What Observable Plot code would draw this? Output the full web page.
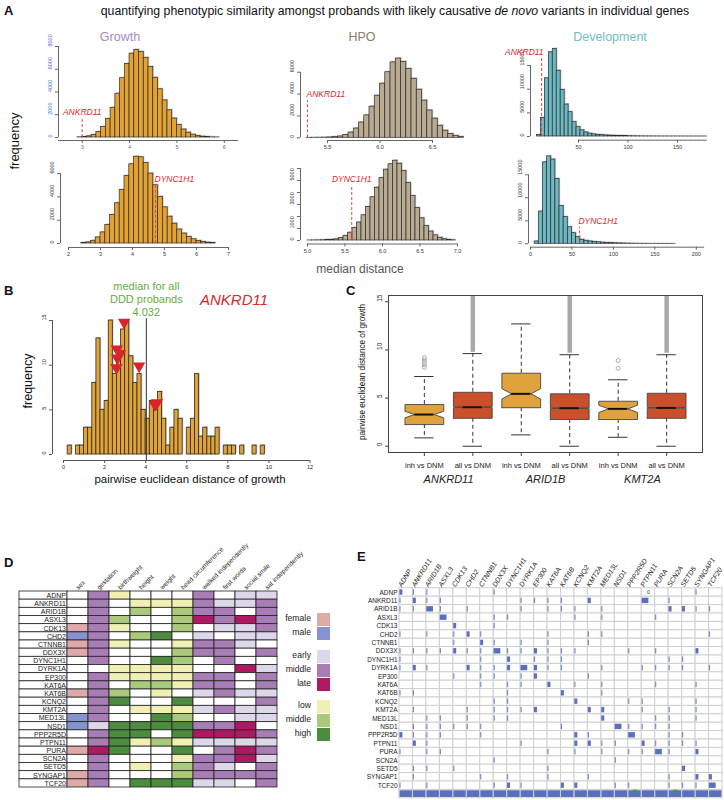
<!DOCTYPE html>
<html><head><meta charset="utf-8">
<script src="https://cdn.jsdelivr.net/npm/d3@7"></script>
<script src="https://cdn.jsdelivr.net/npm/@observablehq/plot@0.6"></script>
<style>
body{margin:0;background:#fff;}
#page{position:relative;width:724px;height:800px;overflow:hidden;font-family:"Liberation Sans",Arial,Helvetica,sans-serif;color:#111;background:#fff;}
.abs{position:absolute;white-space:nowrap;}
</style></head><body><div id="page"></div>
<script>
// ================= DATA =================
// Panel A: histogram bin left edges and counts
const growthTopEdges = [2.9,3.0,3.1,3.2,3.3,3.4,3.5,3.6,3.7,3.8,3.9,4.0,4.1,4.2,4.3,4.4,4.5,4.6,4.7,4.8,4.9,5.0,5.1,5.2,5.3,5.4,5.5,5.6,5.7,5.8];
const growthTopCounts = [15,41,102,233,483,925,1620,2610,3850,5210,6470,7370,7700,7520,7000,6200,5250,4240,3260,2390,1670,1110,700,425,245,135,71,35,17,8];
const growthBotEdges = [2.40,2.55,2.70,2.85,3.00,3.15,3.30,3.45,3.60,3.75,3.90,4.05,4.20,4.35,4.50,4.65,4.80,4.95,5.10,5.25,5.40,5.55,5.70,5.85,6.00,6.15,6.30,6.45];
const growthBotCounts = [30,90,230,520,950,1600,2450,3450,4600,5800,6800,7450,7400,6900,6000,5000,4000,3100,2300,1700,1200,850,560,360,220,130,70,30];
const hpoTopEdges = [5.30,5.35,5.40,5.45,5.50,5.55,5.60,5.65,5.70,5.75,5.80,5.85,5.90,5.95,6.00,6.05,6.10,6.15,6.20,6.25,6.30,6.35,6.40,6.45,6.50,6.55,6.60,6.65,6.70,6.75];
const hpoTopCounts = [5,8,12,20,35,65,120,250,480,850,1400,2050,2850,3850,4950,6000,6900,7250,6950,6300,5400,4400,3400,2500,1750,1100,650,350,170,70];
const hpoBotEdges = [5.00,5.06,5.12,5.18,5.24,5.30,5.36,5.42,5.48,5.54,5.60,5.66,5.72,5.78,5.84,5.90,5.96,6.02,6.08,6.14,6.20,6.26,6.32,6.38,6.44,6.50,6.56,6.62,6.68,6.74,6.80,6.86,6.92];
const hpoBotCounts = [5,10,15,25,40,60,100,200,380,650,1050,1500,2100,2800,3600,4400,5200,5900,6350,6650,6400,5800,4800,3700,2700,1850,1200,750,430,230,110,50,20];
const devTopEdges = [8,12,16,20,24,28,32,36,40,44,48,52,56,60,64,68,72,76,80,84,88,92,96,100,104,108,112,116,120,124,128,132,136,140,144,148,152,156,160,164,168,172,176];
const devTopCounts = [300,3940,12300,17800,18500,13900,9860,6760,5140,3030,1970,1300,850,600,450,350,280,220,180,150,120,100,80,65,50,40,32,26,20,16,13,10,8,6,5,4,3,3,2,2,1,1,1];
const devBotEdges = [5,10,15,20,25,30,35,40,45,50,55,60,65,70,75,80,85,90,95,100,105,110,115,120,125,130,135,140,145,150,155,160,165,170];
const devBotCounts = [500,7000,17700,19000,18300,14100,8200,5800,3600,2300,1450,870,650,500,400,320,250,200,160,120,90,70,50,35,25,18,12,8,5,4,3,2,1,1];
const markerGenes = ["ANKRD11","DYNC1H1"];
const growthMarkers = [3.0, 4.72];
const hpoMarkers = [5.31, 5.59];
const devMarkers = [12.7, 59];

// Panel B
const bLeft  = [0.2,0.6,0.8,1.0,1.2,1.4,1.6,1.8,2.0,2.2,2.4,2.6,2.8,3.0,3.2,3.4,3.6,3.8,4.0,4.2,4.4,4.6,4.8,5.0,5.2,5.4,5.6,6.0,6.2,6.4,6.6,6.8,7.0,7.2,7.4,7.8,8.0,8.2,8.6,9.2,9.6];
const bCount = [1,1,1,3,3,8,13,5,6,15,9,11,14,15,11,8,9,5,4,6,5,7,4,1,3,5,4,3,4,9,2,3,2,2,3,1,1,1,1,1,1];
const bTriX = [2.95,2.6,2.75,2.62,2.58,3.68,4.55,4.45];
const bTriY = [14.8,11.8,11.3,10.8,9.7,9.9,5.8,5.6];
const bMedianAll = 4.032;

// Panel C
const cGenes = ["ANKRD11","ARID1B","KMT2A"];
const cGroups = ["inh vs DNM","all vs DNM","inh vs DNM","all vs DNM","inh vs DNM","all vs DNM"];
const cQ1  = [2.25,2.9,4.0,2.77,2.77,2.9];
const cMed = [3.29,4.05,5.44,3.95,3.88,3.98];
const cQ3  = [4.33,5.6,7.58,5.44,4.67,5.5];
const cLo  = [0.87,0,1.18,0,0.93,0];
const cHi  = [7.24,9.62,12.7,9.5,6.9,9.5];
const cNotchLo = [2.95,4.0,4.9,3.9,3.5,3.93];
const cNotchHi = [3.63,4.1,5.98,4.0,4.26,4.03];
const cOutInh = [[8.2,8.45,8.7,8.95,9.2],[],[8.1,8.9]];
const cOutAllStart = [9.75,9.65,9.65];
const cOutAllMax = [22,22,22];

// Panel D
const dGenes = ["ADNP","ANKRD11","ARID1B","ASXL3","CDK13","CHD2","CTNNB1","DDX3X","DYNC1H1","DYRK1A","EP300","KAT6A","KAT6B","KCNQ2","KMT2A","MED13L","NSD1","PPP2R5D","PTPN11","PURA","SCN2A","SETD5","SYNGAP1","TCF20"];
const dColumns = ["sex","gestation","birthweight","height","weight","head circumference","walked independently","first words","social smile","sat independently"];
// codes: w none, F female, M male, e early, m middle, l late, L low, g middle (growth), H high
const dValues = ["wmLwwwmwee","wmwLLLmeem","wmwgwgmmwm","wmgwwglmlm","FmLwwgweem","MmwgHwewee","FmLwwLmmew","Fmwwwgmmwm","wmwwHgwmww","wwLLLLwwle","wmLLLLmmwm","wmwggLmmwm","FmgwLwemee","wmHwwHwwwm","wmwLLLemee","MmwwHgwwee","MeHHHHmmlw","wmHHwHlllm","wmHLgLeeee","FlHwwHwmlm","wmwwwLmmle","wmwLwgmewm","Fmwwwgmmmm","FmwHHHeewm"];
const dLegendLabels = ["female","male","early","middle","late","low","middle","high"];
const dLegendCodes  = ["F","M","e","m","l","L","g","H"];

// Panel E: [row, column, level]
const eGenes = dGenes;
const eMarks = [
 [0,0,2],[0,1,1],[0,2,1],[0,7,1],[0,22,1],
 [1,0,1],[1,1,2],[1,2,1],[1,3,1],[1,9,1],[1,10,1],[1,11,1],[1,12,1],[1,14,2],[1,18,3],[1,20,1],
 [2,0,1],[2,1,1],[2,2,3],[2,3,1],[2,5,1],[2,9,1],[2,11,1],[2,12,1],[2,13,1],[2,15,1],[2,20,2],[2,21,2],[2,22,1],[2,23,1],
 [3,3,3],[3,7,1],[3,8,1],[3,13,1],[3,15,1],[3,19,1],
 [4,4,2],[4,7,1],
 [5,0,1],[5,2,1],[5,4,1],[5,5,2],[5,6,1],[5,11,1],[5,14,1],[5,15,1],[5,23,1],
 [6,4,1],[6,6,2],[6,7,1],[6,9,1],[6,11,1],[6,14,1],
 [7,0,1],[7,1,1],[7,2,1],[7,3,1],[7,4,2],[7,5,1],[7,6,1],[7,7,3],[7,8,1],[7,9,1],[7,10,2],[7,11,1],[7,12,1],[7,13,1],[7,17,1],[7,19,1],[7,22,2],
 [8,0,1],[8,6,1],[8,8,2],[8,10,1],[8,11,1],[8,12,1],[8,20,1],[8,21,1],
 [9,0,1],[9,1,2],[9,2,1],[9,5,2],[9,6,1],[9,7,1],[9,8,2],[9,9,3],[9,10,2],[9,11,1],[9,12,1],[9,15,1],[9,18,1],[9,19,1],[9,20,1],[9,21,1],[9,23,1],
 [10,4,1],[10,6,1],[10,7,1],[10,9,1],[10,10,2],[10,14,1],
 [11,6,1],[11,8,1],[11,9,1],[11,11,2],[11,13,1],[11,15,1],[11,19,1],[11,22,1],
 [12,0,1],[12,1,1],[12,8,1],[12,12,2],[12,15,1],
 [13,7,1],[13,8,1],[13,13,2],[13,17,1],[13,18,1],[13,22,1],
 [14,1,1],[14,5,1],[14,7,1],[14,8,1],[14,9,1],[14,10,2],[14,14,2],[14,15,2],[14,18,1],[14,20,1],[14,22,1],
 [15,2,1],[15,3,1],[15,5,1],[15,7,1],[15,8,1],[15,15,2],[15,19,1],[15,20,1],[15,22,1],
 [16,1,1],[16,2,1],[16,3,1],[16,4,1],[16,5,1],[16,6,1],[16,12,1],[16,16,3],[16,17,1],[16,18,1],[16,19,1],[16,20,1],
 [17,0,2],[17,1,1],[17,2,1],[17,3,1],[17,6,1],[17,13,2],[17,14,1],[17,17,3],[17,20,1],[17,21,1],
 [18,1,2],[18,2,1],[18,9,1],[18,13,2],[18,14,2],[18,15,1],[18,16,1],[18,18,2],[18,19,1],[18,20,1],[18,21,1],[18,22,1],
 [19,0,1],[19,2,1],[19,3,1],[19,11,1],[19,13,1],[19,15,1],[19,17,1],[19,18,1],[19,19,3],[19,20,1],[19,22,2],
 [20,7,1],[20,16,1],
 [21,1,1],[21,2,1],[21,4,1],[21,11,1],[21,21,2],
 [22,1,1],[22,6,1],[22,8,1],[22,11,1],[22,14,1],[22,20,1],[22,22,2],[22,23,2],
 [23,0,1],[23,2,1],[23,7,1],[23,8,2],[23,9,1],[23,12,2],[23,13,2],[23,16,1],[23,17,1],[23,20,1],[23,21,1],[23,22,1],[23,23,3]
];
const eTotals = [1,1,1,1,1,1,1,1,1,1,1,1,1,1,1,1,1,1,1,1,1,1,1,1];
const eFlags = [17,20];
const eZero = [{row:0, col:18, text:"0"}];

// ================= STYLE / HELPERS =================
const FONT = '"Liberation Sans", Arial, Helvetica, sans-serif';
const baseStyle = {fontFamily: FONT, background: "transparent", overflow: "visible", color: "#222"};
const page = document.getElementById("page");
function mount(node, left, top){ node.style.position="absolute"; node.style.left=left+"px"; node.style.top=top+"px"; page.appendChild(node); }
function box(left, top, width, height, fx1, fx2, fy1, fy2){
  return {width, height, marginLeft: fx1-left, marginRight: left+width-fx2, marginTop: fy1-top, marginBottom: top+height-fy2};
}
function label(txt, x, y, o={}){
  const d=document.createElement("div"); d.className="abs"; d.innerHTML=txt;
  Object.assign(d.style,{left:x+"px",top:y+"px",fontSize:(o.size||12)+"px",color:o.color||"#111",
    fontWeight:o.bold?"bold":"normal",fontStyle:o.italic?"italic":"normal",lineHeight:o.lh||"1.15",
    textAlign:o.align||"center",transformOrigin:"0 0"});
  const tx=o.anchor==="start"?"0":o.anchor==="end"?"-100%":"-50%";
  d.style.transform=`rotate(${o.rotate||0}deg) translate(${tx},-50%)`;
  page.appendChild(d);
}

// ================= PANEL A =================
function histogram(s){
  const bins = s.edges.map((e,i)=>({x1:e, x2:e+s.bw, y:s.counts[i]}));
  const [fx1,fx2,fy1,fy2] = s.fr;
  const left=fx1-26, top=fy1-14, width=fx2-fx1+34, height=fy2-fy1+26;
  const tc = s.tickColor || "#333";
  const p = Plot.plot({
    ...box(left,top,width,height,fx1,fx2,fy1,fy2),
    style: baseStyle,
    x:{domain:s.xDomain}, y:{domain:s.yDomain},
    marks:[
      Plot.rectY(bins,{x1:"x1",x2:"x2",y:"y",fill:"#c9c9c9",dx:1.2,dy:-1}),
      Plot.rectY(bins,{x1:"x1",x2:"x2",y:"y",fill:s.fill,stroke:"#2b2b2b",strokeWidth:0.7}),
      Plot.ruleY([s.yDomain[0]],{x1:()=>s.xLine[0],x2:()=>s.xLine[1],stroke:"#666"}),
      Plot.ruleX([s.xDomain[0]],{y1:()=>s.yLine[0],y2:()=>s.yLine[1],stroke:"#666"}),
      Plot.axisX({ticks:s.xTicks,tickSize:3,tickPadding:2,fontSize:5.5,tickFormat:s.xFmt||(d=>String(d)),label:null,stroke:"#666",fill:tc}),
      Plot.axisY({ticks:s.yTicks,tickSize:3,tickFormat:()=>"",label:null,stroke:"#666"}),
      Plot.text(s.yLabels,{frameAnchor:"left",y:d=>d,text:d=>String(d),rotate:-90,dx:-8,fontSize:5.5,fill:tc}),
      Plot.ruleX([s.marker],{y1:()=>0,y2:()=>s.markerTop,stroke:"#e8453f",strokeDasharray:"3,2",strokeWidth:1}),
      Plot.text([{g:s.gene,x:s.marker,y:s.markerTop}],{x:"x",y:"y",text:"g",dy:-6,dx:s.labelDx||0,textAnchor:s.anchor,fontStyle:"italic",fill:"#e0262c",fontSize:8.5})
    ]
  });
  mount(p,left,top);
}

histogram({edges:growthTopEdges,counts:growthTopCounts,bw:0.1,fill:"#e3a232",fr:[58,238,44,140],
  xDomain:[2.5,6.3],yDomain:[-264,8176],xTicks:[3,4,5,6],xLine:[2.5,6.3],yTicks:[0,2000,4000,6000,8000],
  yLabels:[0,2000,4000,6000,8000],yLine:[0,8000],tickColor:"#4a6fc4",marker:growthMarkers[0],markerTop:1700,gene:markerGenes[0],anchor:"middle"});
histogram({edges:growthBotEdges,counts:growthBotCounts,bw:0.15,fill:"#e3a232",fr:[60,234.4,150,247],
  xDomain:[1.75,7.2],yDomain:[-343,7983],xTicks:[2,3,4,5,6,7],xLine:[2,7],yTicks:[0,2000,4000,6000],
  yLabels:[0,2000,4000,6000],yLine:[0,6000],marker:growthMarkers[1],markerTop:5000,gene:markerGenes[1],anchor:"start",labelDx:-1});
histogram({edges:hpoTopEdges,counts:hpoTopCounts,bw:0.05,fill:"#b8ab91",fr:[300,463,55,140],
  xDomain:[5.243,6.795],yDomain:[-247,7530],xTicks:[5.5,6.0,6.5],xFmt:d=>d.toFixed(1),xLine:[5.5,6.5],yTicks:[0,2000,4000,6000],
  yLabels:[0,2000,4000,6000],yLine:[0,6000],marker:hpoMarkers[0],markerTop:3400,gene:markerGenes[0],anchor:"start",labelDx:-1});
histogram({edges:hpoBotEdges,counts:hpoBotCounts,bw:0.06,fill:"#b8ab91",fr:[300,460,160,243.5],
  xDomain:[4.907,7.04],yDomain:[-292,6667],xTicks:[5,5.5,6,6.5,7],xFmt:d=>d.toFixed(1),xLine:[5,7],yTicks:[0,1000,2000,3000,4000,5000,6000],
  yLabels:[0,1000,3000,5000],yLine:[0,6000],marker:hpoMarkers[1],markerTop:4600,gene:markerGenes[1],anchor:"middle"});
histogram({edges:devTopEdges,counts:devTopCounts,bw:4,fill:"#6cb8c3",fr:[530,708.7,45,139.7],
  xDomain:[1.5,182],yDomain:[-782,19240],xTicks:[50,100,150],xLine:[50,180],yTicks:[0,5000,10000,15000],
  yLabels:[0,5000,10000,15000],yLine:[0,15000],marker:devMarkers[0],markerTop:16500,gene:markerGenes[0],anchor:"end",labelDx:2});
histogram({edges:devBotEdges,counts:devBotCounts,bw:5,fill:"#6cb8c3",fr:[528,700,150,246.7],
  xDomain:[-2.4,205],yDomain:[-740,20280],xTicks:[0,50,100,150,200],xLine:[0,210],yTicks:[0,5000,10000,15000],
  yLabels:[0,5000,10000,15000],yLine:[0,15000],marker:devMarkers[1],markerTop:3600,gene:markerGenes[1],anchor:"start",labelDx:-1});

label("A",4,11,{size:13,bold:true,anchor:"start"});
label('quantifying phenotypic similarity amongst probands with likely causative <i>de novo</i> variants in individual genes',395,11,{size:12.3});
label("Growth",120,37,{size:12.5,color:"#a68bc8"});
label("HPO",362,37,{size:12.5,color:"#8c7c68"});
label("Development",610,37,{size:12.5,color:"#72bdc8"});
label("frequency",15,141,{size:13,rotate:-90});
label("median distance",360,270,{size:12,color:"#555"});

// ================= PANEL B =================
{
  const bins = bLeft.map((e,i)=>({x1:e,x2:e+0.2,y:bCount[i]}));
  const tri = bTriX.map((x,i)=>({x,y:bTriY[i]}));
  const xd=[-0.537,12], yd=[-0.67,19.26];
  const p = Plot.plot({
    ...box(0,276,340,200,52,309.5,282,460), style:baseStyle,
    x:{domain:xd}, y:{domain:yd},
    marks:[
      Plot.rectY(bins,{x1:"x1",x2:"x2",y:"y",fill:"#c9c9c9",dx:1.2,dy:-1}),
      Plot.rectY(bins,{x1:"x1",x2:"x2",y:"y",fill:"#e2a337",stroke:"#2b2b2b",strokeWidth:0.8}),
      Plot.ruleX([bMedianAll],{y1:()=>yd[0],y2:()=>15.2,stroke:"#333",strokeWidth:1}),
      Plot.ruleY([yd[0]],{x1:()=>0,x2:()=>12,stroke:"#555"}),
      Plot.ruleX([xd[0]],{y1:()=>0,y2:()=>15,stroke:"#555"}),
      Plot.axisX({ticks:[0,2,4,6,8,10,12],tickSize:3,tickPadding:2,fontSize:5.5,label:null,stroke:"#555"}),
      Plot.axisY({ticks:[0,5,10,15],tickSize:3,tickFormat:()=>"",label:null,stroke:"#555"}),
      Plot.text([0,5,10,15],{frameAnchor:"left",y:d=>d,text:d=>String(d),rotate:-90,dx:-8,fontSize:5.5}),
      Plot.dot(tri,{x:"x",y:"y",symbol:"triangle",rotate:180,r:4.6,fill:"#d8242b",stroke:"none"}),
      Plot.text([bMedianAll],{x:d=>d,frameAnchor:"top",lineAnchor:"top",text:d=>`median for all\nDDD probands\n${d}`,fill:"#63ad3f",fontSize:11,lineHeight:1.15,dy:-1})
    ]
  });
  mount(p,0,276);
}
label("B",4,291,{size:13,bold:true,anchor:"start"});
label("ANKRD11",234,300,{size:15,italic:true,color:"#d42a2a"});
label("frequency",28,381,{size:12.5,rotate:-90});
label("pairwise euclidean distance of growth",190,480,{size:11.5});

// ================= PANEL C =================
{
  const w=0.4;
  const boxes = cQ1.map((q1,i)=>({p:i+1,q1,med:cMed[i],q3:cQ3[i],lo:cLo[i],hi:cHi[i],nlo:cNotchLo[i],nhi:cNotchHi[i],inh:i%2===0}));
  const poly = boxes.flatMap((b,i)=>[[b.p-w,b.q1],[b.p+w,b.q1],[b.p+w,b.nlo],[b.p+w/2,b.med],[b.p+w,b.nhi],[b.p+w,b.q3],[b.p-w,b.q3],[b.p-w,b.nhi],[b.p-w/2,b.med],[b.p-w,b.nlo],[b.p-w,b.q1]]
     .map(([x,y])=>({id:i,x,y,inh:b.inh})));
  const outPts = cOutInh.flatMap((arr,g)=>arr.map(y=>({x:2*g+1,y})));
  const bands = cOutAllStart.map((s,g)=>({x:2*g+2,y1:s,y2:cOutAllMax[g]}));
  const p = Plot.plot({
    ...box(350,285,374,210,388,702,295,452), style:baseStyle,
    x:{domain:[0.26,6.74]}, y:{domain:[-0.65,15.65]},
    marks:[
      Plot.ruleX(bands,{x:"x",y1:"y1",y2:"y2",stroke:"#a9a9a9",strokeWidth:4.5,clip:true}),
      Plot.ruleX(boxes,{x:"p",y1:"q3",y2:"hi",stroke:"#333",strokeDasharray:"4,3"}),
      Plot.ruleX(boxes,{x:"p",y1:"q1",y2:"lo",stroke:"#333",strokeDasharray:"4,3"}),
      Plot.ruleY(boxes,{y:"hi",x1:d=>d.p-0.2,x2:d=>d.p+0.2,stroke:"#333"}),
      Plot.ruleY(boxes,{y:"lo",x1:d=>d.p-0.2,x2:d=>d.p+0.2,stroke:"#333"}),
      Plot.line(poly.filter(d=>d.inh),{x:"x",y:"y",z:"id",fill:"#e0a33b",stroke:"#444",strokeWidth:0.9,curve:"linear"}),
      Plot.line(poly.filter(d=>!d.inh),{x:"x",y:"y",z:"id",fill:"#c9502b",stroke:"#444",strokeWidth:0.9,curve:"linear"}),
      Plot.ruleY(boxes,{y:"med",x1:d=>d.p-0.2,x2:d=>d.p+0.2,stroke:"#111",strokeWidth:2}),
      Plot.dot(outPts,{x:"x",y:"y",r:2,stroke:"#999",fill:"none",strokeWidth:0.8}),
      Plot.frame({stroke:"#444"}),
      Plot.axisY({ticks:[0,5,10,15],tickSize:3,tickFormat:()=>"",label:null,stroke:"#444"}),
      Plot.text([0,5,10,15],{frameAnchor:"left",y:d=>d,text:d=>String(d),rotate:-90,dx:-9,fontSize:6.5}),
      Plot.axisX({ticks:[1,2,3,4,5,6],tickFormat:i=>cGroups[i-1],tickSize:4,tickPadding:6,fontSize:7.5,label:null,stroke:"#444"}),
      Plot.text(cGenes,{x:(d,i)=>2*i+1.5,frameAnchor:"bottom",dy:30,text:d=>d,fontStyle:"italic",fontSize:11})
    ]
  });
  mount(p,350,285);
}
label("C",346,291,{size:13,bold:true,anchor:"start"});
label("pairwise euclidean distance of growth",363,372,{size:8.2,rotate:-90});

// ================= PANEL D =================
const dColors = {w:"#ffffff",F:"#e0a9a9",M:"#8594cf",e:"#ded7ea",m:"#a87db6",l:"#ad1a63",L:"#f0f0b2",g:"#a9c97b",H:"#4c8c3e"};
{
  const nameLo = -2.286;
  const cells = dValues.flatMap((row,r)=>row.split("").map((code,c)=>({r,c,code})));
  const p = Plot.plot({
    ...box(0,520,290,280,19,277,591,787), style:baseStyle,
    x:{domain:[nameLo,10],axis:null}, y:{domain:[0,24],reverse:true,axis:null}, color:{type:"identity"},
    marks:[
      Plot.rect(dGenes,{x1:()=>nameLo,x2:()=>0,y1:(d,i)=>i,y2:(d,i)=>i+1,fill:"white",stroke:"#222",strokeWidth:0.8}),
      Plot.rect(cells,{x1:"c",x2:d=>d.c+1,y1:"r",y2:d=>d.r+1,fill:d=>dColors[d.code],stroke:"#222",strokeWidth:0.8}),
      Plot.text(dGenes,{x:()=>0,y:(d,i)=>i+0.5,text:d=>d,textAnchor:"end",dx:-1.5,fontSize:7}),
      Plot.text(dColumns,{x:(d,i)=>i+0.5,y:()=>0,text:d=>d,rotate:-45,textAnchor:"start",dy:-3,dx:-1,fontSize:6.5})
    ]
  });
  mount(p,0,520);
}
label("D",4,563,{size:13,bold:true,anchor:"start"});
{
  const ys=[619,633,656,670,684,706,720,734];
  dLegendLabels.forEach((t,i)=>{
    label(t,311,ys[i],{size:8.6,anchor:"end",color:"#222"});
    const s=document.createElement("div");
    Object.assign(s.style,{position:"absolute",left:"317px",top:(ys[i]-6.5)+"px",width:"13px",height:"13px",background:dColors[dLegendCodes[i]]});
    page.appendChild(s);
  });
}

// ================= PANEL E =================
{
  const nC=eGenes.length, nR=eGenes.length+1;
  const grid=[]; for(let r=0;r<nR;r++) for(let c=0;c<nC;c++) grid.push({r,c});
  const wLevel={1:0.085,2:0.22,3:0.5};
  const p = Plot.plot({
    ...box(330,530,394,270,399,722,587.8,797.8), style:baseStyle,
    x:{domain:[0,nC],axis:null}, y:{domain:[0,nR],reverse:true,axis:null}, color:{type:"identity"},
    marks:[
      Plot.rect(grid,{x1:"c",x2:d=>d.c+1,y1:"r",y2:d=>d.r+1,fill:"white",stroke:"#cfcfcf",strokeWidth:1}),
      Plot.rect(eMarks,{x1:d=>d[1]+0.03,x2:d=>d[1]+0.03+wLevel[d[2]],y1:d=>d[0]+0.18,y2:d=>d[0]+0.82,fill:d=>d[2]===1?"#7487cc":"#5a6fbe"}),
      Plot.rect(eTotals,{x1:(d,i)=>i+0.04,x2:(d,i)=>i+0.96,y1:()=>nR-0.9,y2:()=>nR-0.1,fill:"#5a6fbe"}),
      Plot.dot(eFlags,{x:d=>d+0.5,y:()=>nR-0.85,symbol:"triangle",rotate:180,r:1.8,fill:"#3f9a3a",stroke:"none"}),
      Plot.text(eZero,{x:d=>d.col+0.5,y:d=>d.row+0.45,text:"text",fontSize:5}),
      Plot.text(eGenes,{x:()=>0,y:(d,i)=>i+0.5,text:d=>d,textAnchor:"end",dx:-2,fontSize:6.5}),
      Plot.text(eGenes,{x:(d,i)=>i+0.02,y:()=>0,text:d=>d,rotate:-58,textAnchor:"start",dy:-2,fontStyle:"italic",fontSize:7})
    ]
  });
  mount(p,330,530);
}
label("E",357,557,{size:13,bold:true,anchor:"start"});
</script></body></html>
